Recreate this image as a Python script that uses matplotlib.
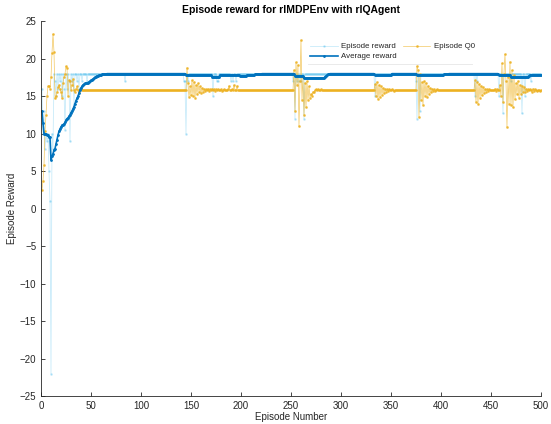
import matplotlib
matplotlib.use("Agg")
import matplotlib.pyplot as plt
import numpy as np

plt.rcParams['font.family'] = ['Liberation Sans', 'DejaVu Sans']

# ---- data (one value per episode) ----
episode_reward = (
    [16, 10, 13, 8, 10, 9, 10, 5, 1, -22,
     10, 8, 18, 17, 15, 18, 16, 18, 17, 18,
     15, 18, 16, 10.5, 18, 16, 18, 17, 9, 18,
     17, 18, 14, 18, 18, 17, 18, 16, 18, 18,
     17, 18, 18, 18, 18, 17]          # ep 1-46
    + [18] * 37                        # 47-83
    + [17]                             # 84
    + [18] * 58                        # 85-142
    + [17, 17, 10, 18, 17]             # 143-147
    + [18] * 24                        # 148-171
    + [15, 18, 18, 18, 17, 17]         # 172-177
    + [18] * 12                        # 178-189
    + [17, 18, 17, 18, 18, 17]         # 190-195
    + [18] * 56                        # 196-251
    + [17, 18, 12, 18, 17, 18, 17, 18, 17, 18, 18, 12]  # 252-263
    + [18] * 70                        # 264-333
    + [15]                             # 334
    + [18] * 40                        # 335-374
    + [17, 12, 18, 18, 13]             # 375-379
    + [18] * 54                        # 380-433
    + [15, 18, 17]                     # 434-436
    + [18] * 21                        # 437-457
    + [15, 18, 18, 18, 12.7]           # 458-462
    + [18] * 7                         # 463-469
    + [17]                             # 470
    + [18] * 10                        # 471-480
    + [12.7, 18, 18, 15]               # 481-484
    + [18] * 5                         # 485-489
    + [17]                             # 490
    + [18] * 10                        # 491-500
)

average_reward = (
    [13.0, 11.4, 10.0, 10.0, 9.9, 9.8, 9.8, 9.5, 9.5, 6.5,
     7.0, 7.3, 7.8, 8.0, 8.6, 9.2, 9.8, 10.3, 10.6, 10.9,
     11.1, 11.2, 11.3, 11.5, 11.8, 12.0, 12.1, 12.3, 12.5, 12.8,
     13.0, 13.3, 13.6, 14.0, 14.4, 14.7, 15.0, 15.4, 15.8, 16.1,
     16.3, 16.5, 16.6, 16.7, 16.7, 16.7, 16.8, 16.9, 17.0, 17.1,
     17.2, 17.3, 17.4, 17.5, 17.6, 17.7, 17.7, 17.8, 17.8, 17.8,
     17.9, 17.9, 17.9, 17.9, 17.9]    # ep 1-65
    + [18.0] * 79                      # 66-144
    + [17.8] * 26                      # 145-170
    + [17.6] * 8                       # 171-178
    + [17.8] * 20                      # 179-198
    + [17.7] * 7                       # 199-205
    + [17.8] * 8 + [17.9] * 7          # 206-220
    + [18.0] * 33                      # 221-253
    + [17.7] * 9                       # 254-262
    + [17.4] * 21                      # 263-283
    + [17.6, 17.7, 17.8, 17.9, 17.9, 18.0, 18.0]  # 284-290
    + [18.0] * 43                      # 291-333
    + [17.8] * 17                      # 334-350
    + [18.0] * 25                      # 351-375
    + [17.8] * 27                      # 376-402
    + [17.9] * 5                       # 403-407
    + [18.0] * 50                      # 408-457
    + [17.8] * 12                      # 458-469
    + [17.5] * 17                      # 470-486
    + [17.6, 17.7, 17.8]               # 487-489
    + [17.8] * 11                      # 490-500
)

episode_q0 = (
    [2.5, 3.7, 5.8, 10.3, 12.5, 15.0, 16.3, 16.4, 16.0, 17.5,
     20.8, 23.3, 20.9, 14.7, 15.0, 15.5, 16.2, 16.5, 16.0, 15.5,
     14.7, 16.8, 17.5, 18.0, 19.0, 18.8, 15.0, 17.2, 17.0, 15.8,
     16.5, 17.3, 15.8, 15.5, 16.0, 16.3, 15.8, 15.6, 15.9, 15.9,
     15.8, 15.8]                       # ep 1-42
    + [15.8] * 103                     # 43-145
    + [18.8, 16.7, 14.9, 16.3, 15.1, 17.1, 15.0, 16.9, 14.8, 16.5,
       15.3, 16.7, 15.6, 16.3, 15.4, 16.1, 15.6, 16.0, 15.7, 15.9,
       15.8, 16.0, 15.7, 15.9, 15.8, 16.0, 15.8, 15.9, 15.7, 15.9,
       15.8, 15.9, 15.8, 15.8, 15.9, 15.7, 15.8, 15.9, 15.8, 15.8,
       15.8, 15.9, 16.4, 15.8, 15.8, 15.9, 15.8, 16.5, 15.8, 15.8,
       16.4, 15.8, 15.8, 15.8, 15.8]   # 146-200
    + [15.8] * 52                      # 201-252
    + [18.5, 13.0, 19.5, 16.5, 19.2, 11.0, 17.0, 22.5, 14.5, 17.5,
       12.5, 16.8, 13.5, 17.0, 14.5, 16.3, 14.8, 15.3, 15.0, 15.6,
       15.5, 15.8, 15.9, 15.8, 15.9, 15.8, 15.8, 15.9]  # 253-280
    + [15.8] * 53                      # 281-333
    + [16.6, 15.0, 16.9, 14.6, 16.5, 14.9, 16.3, 15.2, 16.1, 15.4,
       16.0, 15.6, 15.9, 15.7, 15.9, 15.8, 15.8, 15.9, 15.8, 15.7,
       15.8, 15.8]                     # 334-355
    + [15.8] * 20                      # 356-375
    + [19.0, 18.5, 12.2, 17.9, 14.5, 16.9, 13.8, 17.0, 15.0, 16.8,
       14.9, 16.4, 15.3, 16.1, 15.5, 16.0, 15.7, 15.9, 15.7, 15.8,
       15.9, 15.8, 15.8, 15.8, 15.8]   # 376-400
    + [15.8] * 33                      # 401-433
    + [17.1, 14.2, 16.9, 14.0, 16.6, 14.8, 16.4, 15.1, 16.2, 15.4,
       16.0, 15.6, 15.9, 15.7, 15.9, 15.8, 15.8, 15.8, 15.8]  # 434-452
    + [15.8, 16.0, 15.7, 15.9, 15.8, 15.8]  # 453-458
    + [16.5, 15.0, 19.4, 14.2, 18.0, 20.6, 17.0, 10.9, 17.5, 14.0,
       19.6, 13.8, 18.5, 13.5, 17.8, 14.6, 16.7, 15.3, 17.0, 14.8,
       16.5, 15.3, 16.4, 15.5, 16.2, 15.6, 16.0, 15.7, 15.9, 15.8,
       15.9, 15.8]                     # 459-490
    + [15.6, 16.0, 15.7, 15.9, 15.8, 15.7, 15.8, 15.8, 15.7, 15.8]  # 491-500
)

x_ticks = list(range(0, 501, 50))
y_ticks = list(range(-25, 26, 5))

episodes = np.arange(1, len(episode_reward) + 1)

fig = plt.figure(figsize=(5.51, 4.24), dpi=100)
ax = fig.add_axes([0.0744, 0.066, 0.9074, 0.884])

h1, = ax.plot(episodes, episode_reward, color='#4DBEEE', alpha=0.3, lw=0.6,
              marker='.', markersize=1.8, label='Episode reward')
h3, = ax.plot(episodes, episode_q0, color='#EDB120', alpha=0.7, lw=0.5,
              marker='.', markersize=2.0, label='Episode Q0')
h2, = ax.plot(episodes, average_reward, color='#0072BD', lw=1.2,
              marker='.', markersize=2.0, label='Average reward')

ax.set_xlim(0, 500)
ax.set_ylim(-25, 25)
ax.set_xticks(x_ticks)
ax.set_yticks(y_ticks)
ax.tick_params(direction='in', length=3, width=0.6, labelsize=7,
               colors='#262626')
for s in ['top', 'right']:
    ax.spines[s].set_visible(False)
for s in ['left', 'bottom']:
    ax.spines[s].set_color('#262626')
    ax.spines[s].set_linewidth(0.6)

ax.set_title('Episode reward for rlMDPEnv with rlQAgent', fontsize=7.5,
             fontweight='bold', pad=6)
ax.set_xlabel('Episode Number', fontsize=7, labelpad=1, color='#262626')
ax.set_ylabel('Episode Reward', fontsize=7, labelpad=2, color='#262626')

leg = ax.legend(handles=[h1, h2, h3], ncol=2, loc='upper left',
                bbox_to_anchor=(0.525, 0.959), frameon=False, fontsize=5.7,
                handlelength=3.5, handletextpad=0.4, columnspacing=0.8,
                labelspacing=0.3, borderpad=0.3)
for t in leg.get_texts():
    t.set_color('#262626')
# faint bottom edge of the legend box
ax.plot([0.535, 0.862], [0.885, 0.885], transform=ax.transAxes,
        color='#e6e6e6', lw=0.6)

fig.savefig('out.png', dpi=100)
